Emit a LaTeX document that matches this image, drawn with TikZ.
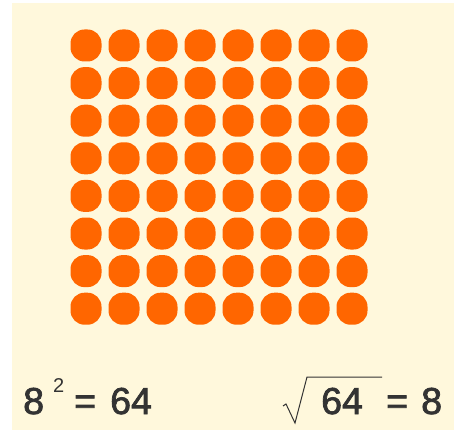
\documentclass[tikz,border=0pt]{standalone}
\usepackage{fontspec}
\setmainfont{Liberation Sans}
\newfontfamily\eqfont{Liberation Sans}[FakeBold=2]
\usetikzlibrary{positioning}
\definecolor{Cream}{HTML}{FFF8DC}
\definecolor{Pumpkin}{HTML}{FF6600}
\definecolor{Ink}{HTML}{333333}
\tikzset{
  dotbox/.style={rectangle, fill=Pumpkin, rounded corners=14pt,
                  minimum width=31pt, minimum height=32pt, inner sep=0pt},
  bigtxt/.style={inner sep=0pt, anchor=base west, text=Ink,
                  font=\eqfont\fontsize{37.5}{40}\selectfont},
  smalltxt/.style={inner sep=0pt, anchor=base west, text=Ink,
                  font=\fontsize{20}{22}\selectfont},
}
\begin{document}
\begin{tikzpicture}[x=1pt, y=-1pt]
  \useasboundingbox (0,0) rectangle (454,430);
  \fill[white] (0,0) rectangle (454,430);
  \fill[Cream] (12,3) rectangle (454,430);
  % 8 x 8 grid of dots
  \foreach \i in {0,...,7}
    \foreach \j in {0,...,7}
      \node[dotbox] (d\i\j) at (86+38*\i, 45.5+37.6*\j) {};
  % left equation
  \node[bigtxt] (eight) at (23,414) {8};
  \node[smalltxt] (sq) at (53,392) {2};
  \node[bigtxt] (eqa) at (74,414) {=};
  \node[bigtxt] (sixtyfour) at (110,414) {64};
  % right equation
  \coordinate (rt) at (283,406);
  \coordinate (rb) at (295,423);
  \coordinate (rtop) at (307,377);
  \coordinate (rend) at (382,377);
  \draw[Ink, line width=1pt, line join=miter] (rt) -- ++(3,-2) -- (rb) -- (rtop) -- (rend);
  \node[bigtxt] (radicand) at (321,414) {64};
  \node[bigtxt] (eqb) at (386,414) {=};
  \node[bigtxt] (root) at (421,414) {8};
\end{tikzpicture}
\end{document}
